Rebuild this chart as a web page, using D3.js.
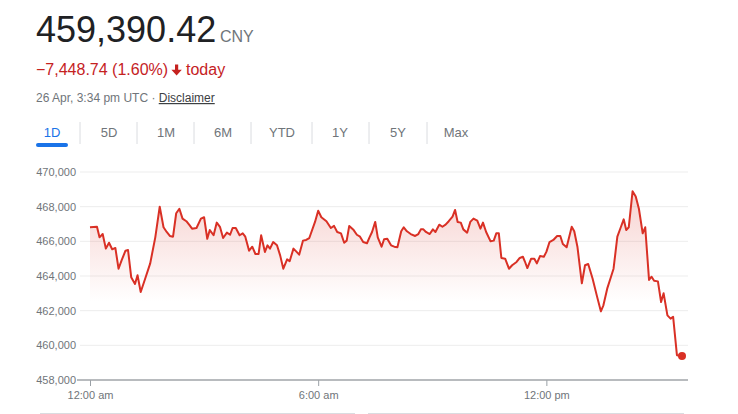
<!DOCTYPE html>
<html>
<head>
<meta charset="utf-8">
<script src="https://cdn.jsdelivr.net/npm/d3@7"></script>
<style>
  html, body { margin: 0; padding: 0; background: #fff; }
  svg { display: block; font-family: Arial, "Liberation Sans", sans-serif; }
</style>
</head>
<body>
<svg id="chart" width="738" height="414"></svg>
<script>
// ---- data (minutes since 12:00 am, price in CNY) ----
const minutes = [0,11,15,20,25,30,35,40,45,50,56,60,65,71,75,80,87,95,103,110,116,121,126,131,136,141,146,152,157,161,168,175,180,185,189,195,200,205,210,216,221,225,230,236,241,245,251,256,261,266,270,276,280,284,289,295,300,305,311,315,321,326,330,336,341,346,355,360,365,373,380,385,390,396,401,405,409,416,421,426,431,437,441,445,450,454,460,464,469,475,480,485,491,495,500,506,513,518,522,526,530,536,541,545,551,556,561,566,572,576,580,585,589,595,600,605,611,616,620,625,632,637,641,645,649,655,661,666,673,678,683,686,690,696,701,705,710,716,720,725,731,737,742,746,752,760,764,769,776,781,786,793,800,806,810,816,822,826,832,837,842,846,850,856,861,866,872,876,882,886,890,896,901,905,911,916,920,926,930,934];
const prices = [466810,466840,466230,466420,465580,465920,465540,465620,464420,464920,465460,465500,463930,463540,464040,463080,463840,464730,466230,468000,466810,466540,466310,466270,467620,467880,467310,467160,466930,466730,466770,467310,467390,466150,466650,466350,467080,466840,466190,466500,466380,466770,466770,466350,466460,466270,465460,465690,465270,465270,466350,465390,465770,465580,465960,465770,465190,464420,464960,464850,465580,465390,465230,466040,466080,466190,467120,467770,467390,467160,466770,466890,466540,466460,465920,466040,466890,466650,466380,466270,465960,465890,466230,466540,467120,466230,465690,466120,466150,465770,465690,465660,466580,466810,466580,466420,466310,466420,466690,466690,466540,466420,466690,466540,466960,466840,466960,467160,467420,467810,467120,467080,466690,466500,467120,467310,467190,466730,467080,466540,466000,466040,466460,466460,465040,465000,464420,464620,464810,465040,465110,464850,464460,465000,465000,464730,465150,465110,465390,465960,466080,466310,466310,465850,465660,466840,466580,465690,463580,464620,464690,463840,462810,461960,462310,463270,463960,464420,466270,466770,467270,466650,466810,468890,468580,467880,466460,466810,463770,463960,463730,463690,462500,463000,461730,461540,461650,459430,459400,459390.42];
const yTicks = [458000,460000,462000,464000,466000,468000,470000];
const xTicks = [0,360,720];
const xTickLabels = ["12:00 am","6:00 am","12:00 pm"];
const tabs = ["1D","5D","1M","6M","YTD","1Y","5Y","Max"];
const lastPrice = "459,390.42";
const currency = "CNY";
const changeText = "\u22127,448.74 (1.60%)";
const stampText = "26 Apr, 3:34 pm UTC \u00b7 ";

const svg = d3.select("#chart");
const red = "#d93025";
const grey = "#70757a";

// ---- header ----
svg.append("text").attr("x", 36).attr("y", 42).attr("font-size", 36).attr("fill", "#202124").text(lastPrice);
svg.append("text").attr("x", 220).attr("y", 42).attr("font-size", 16).attr("fill", grey).text(currency);
svg.append("text").attr("x", 36).attr("y", 75).attr("font-size", 16).attr("fill", "#c5221f").text(changeText);
// bold down arrow
svg.append("path")
  .attr("d", "M175 64.5h3.2v5.3h3.6L176.6 75.5 171.4 69.8h3.6z")
  .attr("fill", "#c5221f");
svg.append("text").attr("x", 186).attr("y", 75).attr("font-size", 16).attr("fill", "#c5221f").text("today");
const st = svg.append("text").attr("x", 36).attr("y", 102).attr("font-size", 12).attr("fill", grey);
st.append("tspan").text(stampText);
st.append("tspan").attr("fill", "#3c4043").attr("text-decoration", "underline").text("Disclaimer");

// ---- tabs ----
const tabCenters = [52,109,166,223,282,340,398,456];
const sepX = [80,137,194,251,312,369,427];
svg.selectAll("line.sep").data(sepX).join("line").attr("class","sep")
  .attr("x1", d => d).attr("x2", d => d).attr("y1", 122).attr("y2", 144)
  .attr("stroke", "#dadce0").attr("stroke-width", 1);
svg.selectAll("text.tab").data(tabs).join("text").attr("class","tab")
  .attr("x", (d,i) => tabCenters[i]).attr("y", 137).attr("text-anchor","middle")
  .attr("font-size", 13).attr("fill", (d,i) => i === 0 ? "#1a73e8" : grey).text(d => d);
svg.append("rect").attr("x", 36).attr("y", 143).attr("width", 32).attr("height", 4).attr("rx", 2).attr("fill", "#1a73e8");

// ---- scales ----
const x = d3.scaleLinear().domain([0, 934]).range([90, 682]);
const y = d3.scaleLinear().domain([458000, 470000]).range([380, 172]);
const data = minutes.map((m, i) => ({ m, v: prices[i] }));

// gridlines
svg.append("g").selectAll("line").data(yTicks.slice(1)).join("line")
  .attr("x1", 80).attr("x2", 688).attr("y1", d => y(d)).attr("y2", d => y(d))
  .attr("stroke", "#ededed").attr("stroke-width", 1);

// y labels
const yAxis = svg.append("g").attr("transform", "translate(80,0)")
  .call(d3.axisLeft(y).tickValues(yTicks).tickSize(0).tickPadding(4).tickFormat(d3.format(",")));
yAxis.select(".domain").remove();
yAxis.selectAll("text").attr("fill", grey).attr("font-size", 11).attr("font-family", "Arial, 'Liberation Sans', sans-serif");

// gradient area
const defs = svg.append("defs");
const grad = defs.append("linearGradient").attr("id", "fillGrad")
  .attr("gradientUnits", "userSpaceOnUse").attr("x1", 0).attr("x2", 0).attr("y1", y(469000)).attr("y2", y(462500));
grad.append("stop").attr("offset", 0).attr("stop-color", red).attr("stop-opacity", 0.22);
grad.append("stop").attr("offset", 1).attr("stop-color", red).attr("stop-opacity", 0);
svg.append("path").datum(data)
  .attr("d", d3.area().x(d => x(d.m)).y0(380).y1(d => y(d.v)))
  .attr("fill", "url(#fillGrad)");

// x axis
const xAxis = svg.append("g").attr("transform", "translate(0,380)")
  .call(d3.axisBottom(x).tickValues(xTicks).tickSize(6).tickSizeOuter(0).tickPadding(5)
    .tickFormat((d,i) => xTickLabels[i]));
xAxis.select(".domain").remove();
xAxis.selectAll(".tick line").attr("stroke", "#9aa0a6");
xAxis.selectAll("text").attr("fill", grey).attr("font-size", 11).attr("font-family", "Arial, 'Liberation Sans', sans-serif");
svg.append("line").attr("x1", 77).attr("x2", 688).attr("y1", 380).attr("y2", 380)
  .attr("stroke", "#a0a4a8").attr("stroke-width", 1.5);

// line
svg.append("path").datum(data)
  .attr("d", d3.line().x(d => x(d.m)).y(d => y(d.v)))
  .attr("fill", "none").attr("stroke", red).attr("stroke-width", 2).attr("stroke-linejoin", "round");

// last point dot
const last = data[data.length - 1];
svg.append("circle").attr("cx", x(last.m)).attr("cy", y(last.v)).attr("r", 4).attr("fill", red);

// bottom card edges
svg.append("line").attr("x1", 40).attr("x2", 355).attr("y1", 413.5).attr("y2", 413.5).attr("stroke", "#dadce0");
svg.append("line").attr("x1", 368).attr("x2", 684).attr("y1", 413.5).attr("y2", 413.5).attr("stroke", "#dadce0");
</script>
</body>
</html>
